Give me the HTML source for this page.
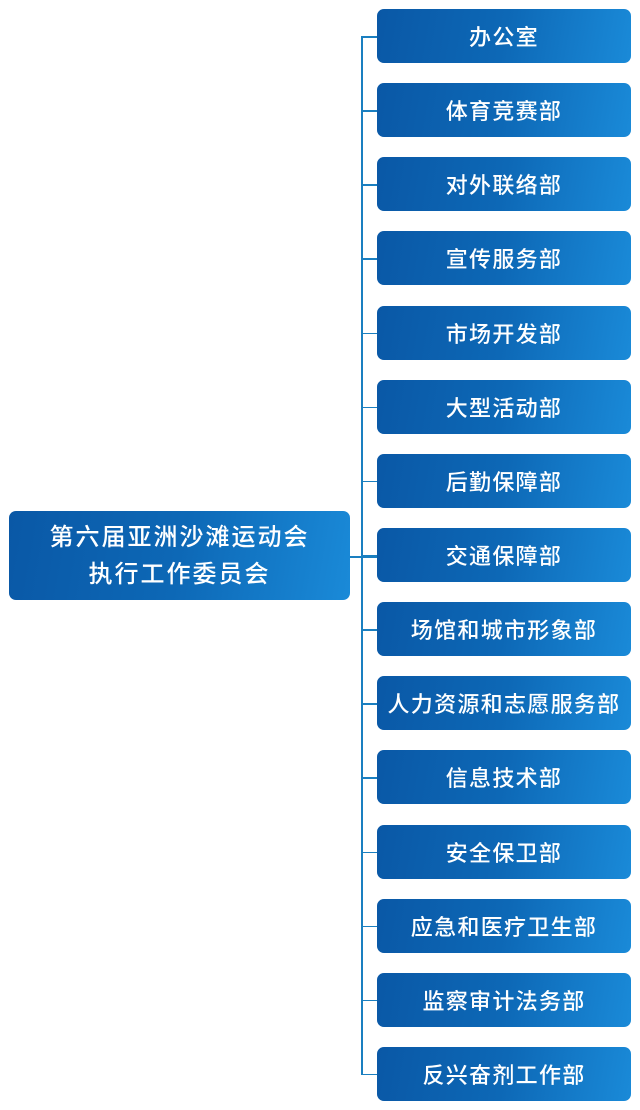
<!DOCTYPE html>
<html><head><meta charset="utf-8"><style>
body{margin:0;width:640px;height:1110px;background:#fff;position:relative;overflow:hidden;font-family:"Liberation Sans","Noto Sans CJK SC",sans-serif;}
.b{position:absolute;border-radius:7px;color:#fff;display:flex;align-items:center;justify-content:center;text-align:center;font-weight:500;background:linear-gradient(100deg,#0a58a6 0%,#0d68b6 50%,#1a8ad8 100%);}
.r{left:377px;width:254px;height:54px;font-size:22px;letter-spacing:1.3px;}
.l{position:absolute;background:#1a7fc0;}
</style></head><body>
<div class="b" style="left:9px;top:511px;width:341px;height:89px;font-size:24px;letter-spacing:2px;line-height:37px;">第六届亚洲沙滩运动会<br>执行工作委员会</div>
<div class="l" style="left:361px;top:36px;width:1.5px;height:1039px"></div>
<div class="l" style="left:350px;top:556px;width:27px;height:1.5px"></div>
<div id="c"></div>
<script>
var n=["办公室","体育竞赛部","对外联络部","宣传服务部","市场开发部","大型活动部","后勤保障部","交通保障部","场馆和城市形象部","人力资源和志愿服务部","信息技术部","安全保卫部","应急和医疗卫生部","监察审计法务部","反兴奋剂工作部"];
var h="";
for(var i=0;i<15;i++){var t=9+i*74.14;h+='<div class="b r" style="top:'+t+'px">'+n[i]+'</div><div class="l" style="left:361px;top:'+(t+27)+'px;width:16px;height:1.5px"></div>';}
document.getElementById("c").innerHTML=h;
</script>
</body></html>
